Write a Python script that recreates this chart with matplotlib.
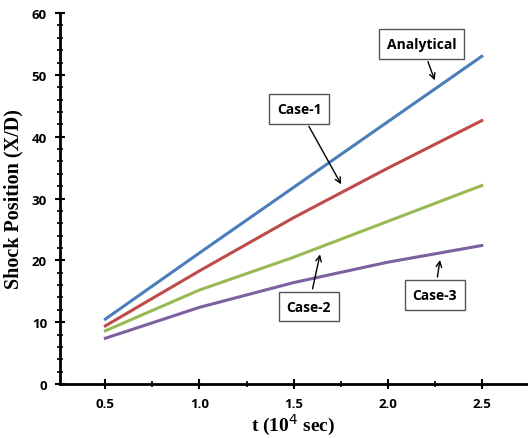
import matplotlib.pyplot as plt
from matplotlib.ticker import MultipleLocator

t = [0.5, 1.0, 1.5, 2.0, 2.5]
analytical = [10.5, 21.2, 31.8, 42.4, 53.0]
case1 = [9.4, 18.3, 26.9, 34.9, 42.6]
case2 = [8.6, 15.2, 20.5, 26.3, 32.1]
case3 = [7.4, 12.4, 16.4, 19.7, 22.4]

fig = plt.figure(figsize=(5.28, 4.39), dpi=100)
ax = fig.add_axes([0.114, 0.123, 0.884, 0.845])

ax.plot(t, analytical, color='#4a7ebb', lw=2.2)
ax.plot(t, case1, color='#be4b48', lw=2.2)
ax.plot(t, case2, color='#98b954', lw=2.2)
ax.plot(t, case3, color='#7d60a0', lw=2.2)

ax.set_xlim(0.26, 2.74)
ax.set_ylim(0, 60)
ax.spines['top'].set_visible(False)
ax.spines['right'].set_visible(False)
ax.spines['left'].set_linewidth(2)
ax.spines['bottom'].set_linewidth(2)

ax.xaxis.set_major_locator(MultipleLocator(0.5))
ax.xaxis.set_minor_locator(MultipleLocator(0.25))
ax.yaxis.set_major_locator(MultipleLocator(10))
ax.yaxis.set_minor_locator(MultipleLocator(2))
ax.tick_params(which='major', direction='inout', length=7, width=1.5, labelsize=9.5, pad=6)
ax.tick_params(which='minor', direction='inout', length=4, width=1.2)
ax.xaxis.set_major_formatter(plt.FormatStrFormatter('%.1f'))
ax.yaxis.set_major_formatter(plt.FormatStrFormatter('%d'))
for lbl in ax.get_xticklabels() + ax.get_yticklabels():
    lbl.set_fontweight('bold')
    lbl.set_family('Open Sans')

ax.set_xlabel('t (10$^4$ sec)', family='Liberation Serif', fontweight='bold', fontsize=14, labelpad=1)
ax.set_ylabel('Shock Position (X/D)', family='Liberation Serif', fontweight='bold', fontsize=14.5, labelpad=6)

box = dict(boxstyle='square,pad=0.55', fc='white', ec='#555555', lw=1)
arrow = dict(arrowstyle='->', color='black', lw=1)
notes = [('Analytical', (2.255, 48.7), (2.18, 55.0)),
         ('Case-1', (1.76, 31.9), (1.53, 44.5)),
         ('Case-2', (1.644, 21.4), (1.58, 12.5)),
         ('Case-3', (2.28, 20.5), (2.25, 14.4))]
for txt, xy, xyt in notes:
    ax.annotate(txt, xy=xy, xytext=xyt, ha='center', va='center', fontsize=10,
                fontweight='bold', family='Open Sans', bbox=box, arrowprops=arrow)

fig.savefig('out.png', dpi=100)
